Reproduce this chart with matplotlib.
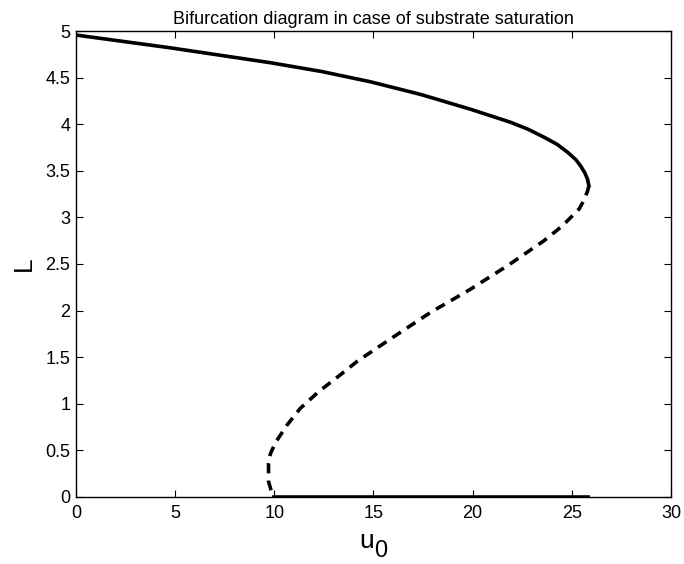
import numpy as np
import matplotlib.pyplot as plt

plt.rcParams['font.family'] = ['Liberation Sans', 'DejaVu Sans']

# stable upper branch (solid)
upper_u0 = [0.0, 4.75, 9.8, 12.4, 14.85, 17.37, 19.9, 21.92, 22.8, 23.6, 24.25,
            24.78, 25.2, 25.45, 25.65, 25.79, 25.86]
upper_L = [4.957, 4.82, 4.66, 4.565, 4.455, 4.32, 4.16, 4.02, 3.945, 3.86, 3.785,
           3.70, 3.62, 3.55, 3.48, 3.41, 3.34]

# unstable middle branch (dashed)
mid_u0 = [25.86, 25.79, 25.6, 25.37, 24.53, 23.6, 21.75, 19.9, 17.88, 16.03,
          14.18, 13.33, 12.24, 11.31, 10.64, 10.05, 9.8, 9.71, 9.71, 9.88, 9.97]
mid_L = [3.34, 3.28, 3.18, 3.09, 2.91, 2.75, 2.48, 2.23, 1.98, 1.72,
         1.455, 1.31, 1.13, 0.95, 0.77, 0.58, 0.46, 0.36, 0.165, 0.04, 0.0]

# trivial branch (solid)
low_u0 = [9.97, 25.8]
low_L = [0.0, 0.0]

fig = plt.figure(figsize=(6.84, 5.64), dpi=100)
ax = fig.add_axes([0.111, 0.119, 0.87, 0.826])

ax.plot(upper_u0, upper_L, color='black', lw=2.6, solid_joinstyle='round')
ax.plot(mid_u0, mid_L, color='black', lw=2.6, dashes=(2.8, 2.0))
ax.plot(low_u0, low_L, color='black', lw=2.6)

ax.set_xlim(0, 30)
ax.set_ylim(0, 5)
ax.set_xticks(np.arange(0, 31, 5))
ax.set_yticks(np.arange(0, 5.01, 0.5))
ax.set_yticklabels(['0', '0.5', '1', '1.5', '2', '2.5', '3', '3.5', '4', '4.5', '5'])
ax.tick_params(direction='in', top=True, right=True, length=5, labelsize=13)
ax.tick_params(axis='x', pad=6)
ax.tick_params(axis='y', pad=4)
for s in ax.spines.values():
    s.set_linewidth(1.0)

# u with a large, low subscript 0
ax.set_xlabel('u', fontsize=19, labelpad=5)
ax.xaxis.label.set_x(0.488)
ax.annotate('0', xy=(1, 0), xycoords=ax.xaxis.label, xytext=(0.5, -6.5),
            textcoords='offset points', fontsize=17, ha='left', va='bottom')
ax.set_ylabel('L', fontsize=19, labelpad=7)
ax.set_title('Bifurcation diagram in case of substrate saturation', fontsize=13, pad=5)

fig.savefig('out.png', dpi=100)
